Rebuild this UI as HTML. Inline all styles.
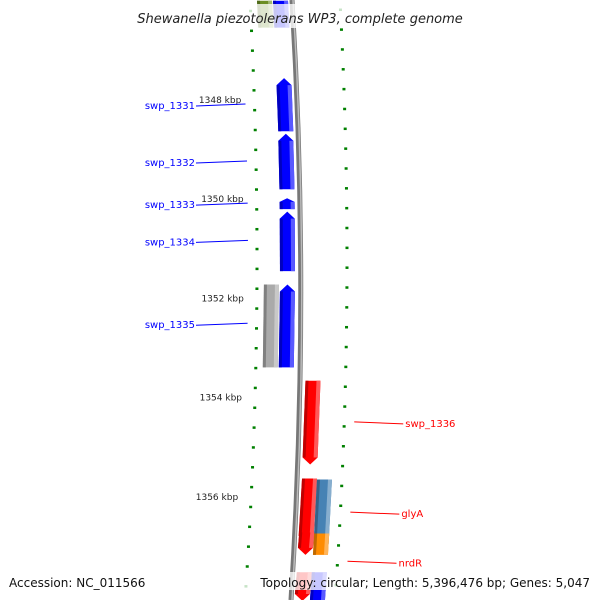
<!DOCTYPE html>
<html><head><meta charset="utf-8"><style>
html,body{margin:0;padding:0;background:#fff;}
svg{display:block;font-family:"DejaVu Sans","Liberation Sans",sans-serif;}
</style></head><body>
<svg id="map" width="600" height="600" viewBox="0 0 600 600">
<defs>
<linearGradient id="gBack" x1="0" x2="1" y1="0" y2="0"><stop offset="0" stop-color="#555"/><stop offset="0.5" stop-color="#999"/><stop offset="1" stop-color="#666"/></linearGradient>
</defs>
<g id="layer"></g>
</svg>
<script>
// data
const majorTicksKbp = [1348, 1350, 1352, 1354, 1356, 1358];
const majorTickLabels = ["1348 kbp", "1350 kbp", "1352 kbp", "1354 kbp", "1356 kbp", ""];
const geneNames = ["top-green", "top-blue", "swp_1331", "swp_1332", "swp_1333", "swp_1334", "swp_1335", "gray-1335", "swp_1336", "glyA", "glyA-cog", "nrdR", "nrdR-cog", "bottom-red", "bottom-blue"];
const geneStartKbp = [1346.0, 1346.0, 1347.56, 1348.68, 1349.98, 1350.25, 1351.72, 1351.72, 1353.66, 1355.63, 1355.65, 1356.72, 1356.74, 1357.52, 1357.52];
const geneEndKbp   = [1346.54, 1346.54, 1348.63, 1349.8, 1350.2, 1351.45, 1353.39, 1353.39, 1355.35, 1356.93, 1356.95, 1357.17, 1357.17, 1358.1, 1358.1];
const geneStrand   = [0, 0, 1, 1, 1, 1, 1, 0, -1, -1, 0, -1, 0, -1, 0];
const geneColumn   = [-2, -1, -1, -1, -1, -1, -1, -2, 1, 1, 2, 1, 2, 1, 2];
const geneColor    = ["#6b8e23", "#0000ff", "#0000ff", "#0000ff", "#0000ff", "#0000ff", "#0000ff", "#aaaaaa", "#ff0000", "#ff0000", "#4682b4", "#ff0000", "#ff8c00", "#ff0000", "#0000ff"];
const labelNames = ["swp_1331", "swp_1332", "swp_1333", "swp_1334", "swp_1335", "swp_1336", "glyA", "nrdR"];
const labelKbp   = [1348.1, 1349.25, 1350.1, 1350.85, 1352.52, 1354.51, 1356.33, 1357.32];
const labelSide  = [-1, -1, -1, -1, -1, 1, 1, 1];
const labelColor = ["#0000ff", "#0000ff", "#0000ff", "#0000ff", "#0000ff", "#ff0000", "#ff0000", "#ff0000"];

// axes
const y = k => 100 + (k - 1348) * 49.6;
const bend = yy => 10 * (1 - Math.pow((yy - 260) / 310, 2));
const colX = c => ({"-2": 260, "-1": 276, "1": 303, "2": 318})[String(c)];
const NS = "http://www.w3.org/2000/svg";
const layer = document.getElementById("layer");
function mk(tag, attrs, parent) {
  const e = document.createElementNS(NS, tag);
  for (const k in attrs) e.setAttribute(k, attrs[k]);
  (parent || layer).appendChild(e);
  return e;
}
function shade(hex, f) {
  const n = parseInt(hex.slice(1), 16);
  let r = n >> 16, g = (n >> 8) & 255, b = n & 255;
  if (f < 0) { r *= 1 + f; g *= 1 + f; b *= 1 + f; }
  else { r += (255 - r) * f; g += (255 - g) * f; b += (255 - b) * f; }
  return "rgb(" + Math.round(r) + "," + Math.round(g) + "," + Math.round(b) + ")";
}

// backbone
const bb = mk("path", {d: "M292,0 Q310,300 291,600", stroke: "#777", "stroke-width": 5, fill: "none"});


const bb2 = mk("path", {d: "M293,0 Q311,300 292,600", stroke: "#bbb", "stroke-width": 1.5, fill: "none"});



// ticks
const tickStep = 0.4;
for (let k = 1346.2; k <= 1358.05; k += tickStep) {
  const yy = y(k);
  const isMajor = Math.abs(Math.round(k / 2) * 2 - k) < 0.01;
  const w = isMajor ? 8 : 3;
  const lt = mk("rect", {x: 247 + bend(yy) - w / 2, y: yy - 1, width: w, height: 2.5, fill: "#008000"});
  
  
  const yr = yy - 2 + 0.2 * tickStep * 10;
  const rt = mk("rect", {x: 337 + bend(yr) - w / 2, y: yr - 1, width: w, height: 2.5, fill: "#008000"});
  
  
}
majorTicksKbp.forEach((k, i) => {
  if (!majorTickLabels[i]) return;
  const yy = y(k);
  const t = mk("text", {x: 240 + bend(yy) - 6, y: yy + 3, "font-size": 9, fill: "#222", "text-anchor": "end"});
  t.textContent = majorTickLabels[i];
  
  
});

// genes
geneNames.forEach((n, i) => {
  const y0 = y(geneStartKbp[i]), y1 = y(geneEndKbp[i]);
  const w = 15, c = geneColor[i];
  const x0 = colX(geneColumn[i]) + bend(y0) - 6, x1 = colX(geneColumn[i]) + bend(y1) - 6;
  const a = Math.min(7, (y1 - y0) / 3);
  let pts;
  if (geneStrand[i] === 1) pts = [[x0 + w / 2, y0], [x0 + w, y0 + a], [x1 + w, y1], [x1, y1], [x0, y0 + a]];
  else if (geneStrand[i] === -1) pts = [[x0, y0], [x0 + w, y0], [x1 + w, y1 - a], [x1 + w / 2, y1], [x1, y1 - a]];
  else pts = [[x0, y0], [x0 + w, y0], [x1 + w, y1], [x1, y1]];
  const g = mk("g", {});
  
  
  mk("polygon", {points: pts.map(p => p.join(",")).join(" "), fill: c}, g);
  const mid = pts.map(p => [p[0] + (p[0] - (x0 + w / 2)) * 0, p[1]]);
  // shading strips
  const sl = pts.map(p => [Math.min(p[0], (p[0] + (p[1] < y0 + a + 1 ? x0 : x1)) / 2 + 3), p[1]]);
  mk("polygon", {points: [[x0, y0 + (geneStrand[i] === 1 ? a : 0)], [x0 + 3, y0 + (geneStrand[i] === 1 ? a : 0)], [x1 + 3, y1 - (geneStrand[i] === -1 ? a : 0)], [x1, y1 - (geneStrand[i] === -1 ? a : 0)]].map(p => p.join(",")).join(" "), fill: shade(c, -0.25)}, g);
  mk("polygon", {points: [[x0 + w - 4, y0 + (geneStrand[i] === 1 ? a : 0)], [x0 + w, y0 + (geneStrand[i] === 1 ? a : 0)], [x1 + w, y1 - (geneStrand[i] === -1 ? a : 0)], [x1 + w - 4, y1 - (geneStrand[i] === -1 ? a : 0)]].map(p => p.join(",")).join(" "), fill: shade(c, 0.35)}, g);
});

// white bands behind title/footer
const b1 = mk("rect", {x: 0, y: 4, width: 600, height: 24, fill: "#fff", opacity: 0.78});


const b2 = mk("rect", {x: 0, y: 572, width: 600, height: 18, fill: "#fff", opacity: 0.78});



// labels
labelNames.forEach((n, i) => {
  const yy = y(labelKbp[i]);
  const g = mk("g", {});
  
  
  if (labelSide[i] < 0) {
    const xe = 244 + bend(yy) - 6;
    mk("line", {x1: 196, y1: yy + 1, x2: xe, y2: yy - 1, stroke: labelColor[i], "stroke-width": 1}, g);
    const t = mk("text", {x: 195, y: yy + 4, "font-size": 10, fill: labelColor[i], "text-anchor": "end"}, g);
    t.textContent = n;
  } else {
    const xs = 351 + bend(yy) - 4;
    mk("line", {x1: xs, y1: yy - 1, x2: xs + 49, y2: yy + 1, stroke: labelColor[i], "stroke-width": 1}, g);
    const t = mk("text", {x: xs + 51, y: yy + 4, "font-size": 10, fill: labelColor[i]}, g);
    t.textContent = n;
  }
});

// title and footer
const title = mk("text", {x: 300, y: 23, "font-size": 13, "font-style": "italic", fill: "#222", "text-anchor": "middle"});
title.textContent = "Shewanella piezotolerans WP3, complete genome";


const acc = mk("text", {x: 9, y: 587, "font-size": 12, fill: "#111"});
acc.textContent = "Accession: NC_011566";


const topo = mk("text", {x: 590, y: 587, "font-size": 12, fill: "#111", "text-anchor": "end"});
topo.textContent = "Topology: circular; Length: 5,396,476 bp; Genes: 5,047";


</script>
</body></html>
